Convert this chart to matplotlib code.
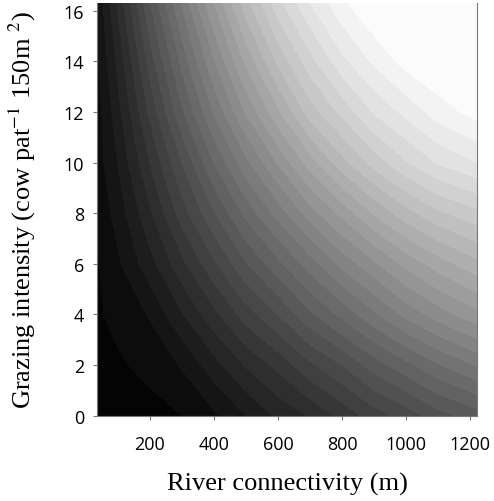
import numpy as np
import matplotlib
matplotlib.use("Agg")
import matplotlib.pyplot as plt

# river connectivity (m) and grazing intensity grid
river = [35, 100, 200, 300, 400, 500, 600, 700, 800, 900, 1000, 1100, 1222]
grazing = [0, 2, 4, 6, 8, 10, 12, 14, 16.3]

# brightness (0 = black, 1 = white), one row per grazing value
row_0 = [0.02, 0.02, 0.025, 0.033, 0.06, 0.10, 0.14, 0.17, 0.21, 0.25, 0.28, 0.32, 0.35]
row_2 = [0.02, 0.03, 0.04, 0.07, 0.12, 0.17, 0.21, 0.26, 0.30, 0.35, 0.39, 0.43, 0.47]
row_4 = [0.03, 0.04, 0.07, 0.13, 0.19, 0.25, 0.30, 0.36, 0.41, 0.46, 0.51, 0.55, 0.59]
row_6 = [0.03, 0.06, 0.12, 0.19, 0.26, 0.33, 0.39, 0.45, 0.51, 0.56, 0.61, 0.65, 0.69]
row_8 = [0.04, 0.08, 0.16, 0.25, 0.33, 0.41, 0.48, 0.55, 0.61, 0.67, 0.72, 0.76, 0.79]
row_10 = [0.05, 0.10, 0.20, 0.30, 0.40, 0.49, 0.57, 0.65, 0.72, 0.78, 0.83, 0.87, 0.90]
row_12 = [0.05, 0.12, 0.24, 0.36, 0.47, 0.57, 0.66, 0.75, 0.81, 0.87, 0.91, 0.95, 0.98]
row_14 = [0.06, 0.14, 0.28, 0.41, 0.53, 0.64, 0.74, 0.82, 0.89, 0.94, 0.98, 1.00, 1.00]
row_16 = [0.07, 0.17, 0.33, 0.47, 0.60, 0.72, 0.82, 0.90, 0.96, 1.00, 1.00, 1.00, 1.00]

z = np.array([row_0, row_2, row_4, row_6, row_8, row_10, row_12, row_14, row_16])

plt.rcParams["mathtext.fontset"] = "stix"

fig = plt.figure(figsize=(4.94, 5.02), dpi=100)
ax = fig.add_axes([0.196, 0.170, 0.770, 0.822])

ax.contourf(river, grazing, z, levels=np.linspace(0, 1.0001, 31),
            cmap="gray", vmin=0, vmax=1)

ax.set_xlim(35, 1222)
ax.set_ylim(0, 16.3)
ax.set_xticks([200, 400, 600, 800, 1000, 1200])
ax.set_yticks([0, 2, 4, 6, 8, 10, 12, 14, 16])

for side in ["left", "bottom", "right"]:
    ax.spines[side].set_color("#777777")
ax.spines["top"].set_visible(False)
ax.tick_params(axis="x", length=3, color="#777777", pad=11)
ax.tick_params(axis="y", length=3, color="#777777", pad=6)
for lab in ax.get_xticklabels() + ax.get_yticklabels():
    lab.set_family("Open Sans")
    lab.set_fontsize(13)

ax.set_xlabel("River connectivity (m)", family="Liberation Serif", fontsize=19)
ax.set_ylabel("Grazing intensity (cow pat$^{-1}$ 150m $^{2}$)",
              family="Liberation Serif", fontsize=19)
ax.xaxis.set_label_coords(0.5, -0.137)
ax.yaxis.set_label_coords(-0.155, 0.5)

fig.savefig("out.png", dpi=100)
